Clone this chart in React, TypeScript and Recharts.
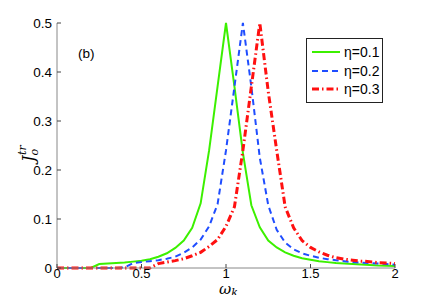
import { Legend, Line, LineChart, XAxis, YAxis } from 'recharts'

const omega = [
  0, 0.05, 0.1, 0.15, 0.2, 0.25, 0.3, 0.35, 0.4, 0.45, 0.5, 0.55, 0.6, 0.65, 0.7, 0.75, 0.8, 0.85, 0.9, 0.95, 1,
  1.05, 1.1, 1.15, 1.2, 1.25, 1.3, 1.35, 1.4, 1.45, 1.5, 1.55, 1.6, 1.65, 1.7, 1.75, 1.8, 1.85, 1.9, 1.95, 2
]
const eta01 = [
  0, 0, 0, 0, 0, 0.008, 0.009, 0.01, 0.011, 0.013, 0.015, 0.018, 0.023, 0.03, 0.041, 0.056, 0.082, 0.132, 0.24, 0.37, 0.5,
  0.37, 0.235, 0.128, 0.083, 0.056, 0.042, 0.032, 0.025, 0.02, 0.017, 0.014, 0.012, 0.01, 0.009, 0.008, 0.007, 0.006, 0.005, 0.0045, 0.004
]
const eta02 = [
  0, 0, 0, 0, 0, 0, 0, 0, 0.001, 0.01, 0.012, 0.014, 0.016, 0.019, 0.023, 0.031, 0.042, 0.058, 0.085, 0.13, 0.24,
  0.37, 0.5, 0.37, 0.225, 0.128, 0.078, 0.052, 0.038, 0.03, 0.025, 0.021, 0.018, 0.016, 0.014, 0.012, 0.011, 0.01, 0.009, 0.008, 0.007
]
const eta03 = [
  0, 0, 0, 0, 0, 0, 0, 0, 0, 0, 0, 0, 0.009, 0.012, 0.015, 0.019, 0.025, 0.032, 0.044, 0.058, 0.085,
  0.125, 0.24, 0.37, 0.5, 0.36, 0.24, 0.125, 0.082, 0.056, 0.042, 0.033, 0.026, 0.021, 0.018, 0.016, 0.014, 0.013, 0.011, 0.01, 0.009
]
const xTicks = [0, 0.5, 1, 1.5, 2]
const yTicks = [0, 0.1, 0.2, 0.3, 0.4, 0.5]

const series = [
  { key: 'a', name: 'η=0.1', color: '#3cf000', dash: undefined, width: 2 },
  { key: 'b', name: 'η=0.2', color: '#1f4dff', dash: '6 4', width: 2 },
  { key: 'c', name: 'η=0.3', color: '#ff1010', dash: '7 3 1.5 3', width: 3 }
]

const data = omega.map((x, i) => ({ x, a: eta01[i], b: eta02[i], c: eta03[i] }))

const font = '"Liberation Sans", Arial, sans-serif'
const tickColor = '#444'
const fmt = (v: number) => String(v)

const BottomTick = ({ x, y, payload }: any) => (
  <g>
    <line x1={x} x2={x} y1={y} y2={y - 4} stroke={tickColor} />
    <text x={x} y={y + 10} textAnchor="middle" fontSize={13} fontFamily={font} fill="#000">
      {fmt(payload.value)}
    </text>
  </g>
)
const TopTick = ({ x, y }: any) => <line x1={x} x2={x} y1={y} y2={y + 4} stroke={tickColor} />
const LeftTick = ({ x, y, payload }: any) => (
  <g>
    <line x1={x} x2={x + 4} y1={y} y2={y} stroke={tickColor} />
    <text x={x - 5} y={y + 5} textAnchor="end" fontSize={13.5} fontFamily={font} fill="#000">
      {fmt(payload.value)}
    </text>
  </g>
)
const RightTick = ({ x, y }: any) => <line x1={x} x2={x - 4} y1={y} y2={y} stroke={tickColor} />

function LegendBox() {
  return (
    <div
      style={{
        border: '1px solid #222',
        background: '#fff',
        width: 75,
        padding: '4px 0 3px 0',
        fontFamily: font,
        fontSize: 14
      }}
    >
      {series.map((s) => (
        <div key={s.key} style={{ display: 'flex', alignItems: 'center', height: 18.5 }}>
          <svg width={33} height={10} style={{ marginLeft: 4 }}>
            <line x1={1} x2={29} y1={5} y2={5} stroke={s.color} strokeWidth={s.width} strokeDasharray={s.dash} />
          </svg>
          <span>{s.name}</span>
        </div>
      ))}
    </div>
  )
}

export default function App() {
  return (
    <div style={{ margin: -8, width: 436, height: 303, background: '#fff' }}>
      <LineChart width={436} height={303} data={data} margin={{ top: 23, right: 41, bottom: 0, left: 0 }}>
        <XAxis
          xAxisId="bottom"
          type="number"
          dataKey="x"
          domain={[0, 2]}
          ticks={xTicks}
          height={35}
          stroke="#888"
          tickLine={false}
          tickSize={0}
          tickMargin={0}
          tick={<BottomTick />}
          label={{
            content: () => (
              <text x={219} y={294} fontFamily="'DejaVu Serif', serif" fontStyle="italic" fontSize={15} fill="#000">
                ω<tspan dy={2} fontSize={11}>k</tspan>
              </text>
            )
          }}
        />
        <XAxis
          xAxisId="top"
          orientation="top"
          type="number"
          dataKey="x"
          domain={[0, 2]}
          ticks={xTicks}
          height={0}
          stroke="#888"
          tickLine={false}
          tickSize={0}
          tickMargin={0}
          tick={<TopTick />}
        />
        <YAxis
          yAxisId="left"
          type="number"
          domain={[0, 0.5]}
          ticks={yTicks}
          width={57}
          stroke="#888"
          tickLine={false}
          tickSize={0}
          tickMargin={0}
          tick={<LeftTick />}
          label={{
            content: () => (
              <g>
                <text
                  transform="translate(34,162) rotate(-90)"
                  fontFamily="'DejaVu Serif', serif"
                  fontStyle="italic"
                  fontSize={16}
                  fill="#000"
                >
                  J<tspan dy={4} fontSize={11}>o</tspan>
                  <tspan dx={-6} dy={-12} fontSize={11}>tr</tspan>
                </text>
                <text x={78} y={58} fontFamily={font} fontSize={13.5} fill="#000">
                  (b)
                </text>
              </g>
            )
          }}
        />
        <YAxis
          yAxisId="right"
          orientation="right"
          type="number"
          domain={[0, 0.5]}
          ticks={yTicks}
          width={0}
          stroke="#888"
          tickLine={false}
          tickSize={0}
          tickMargin={0}
          tick={<RightTick />}
        />
        <Legend
          layout="vertical"
          align="center"
          verticalAlign="middle"
          content={() => <LegendBox />}
          wrapperStyle={{ left: 306, top: 38, width: 77, height: 62 }}
        />
        {series.map((s) => (
          <Line
            key={s.key}
            xAxisId="bottom"
            yAxisId="left"
            type="linear"
            dataKey={s.key}
            name={s.name}
            stroke={s.color}
            strokeWidth={s.width}
            strokeDasharray={s.dash}
            dot={false}
            activeDot={false}
            isAnimationActive={false}
          />
        ))}
      </LineChart>
    </div>
  )
}
